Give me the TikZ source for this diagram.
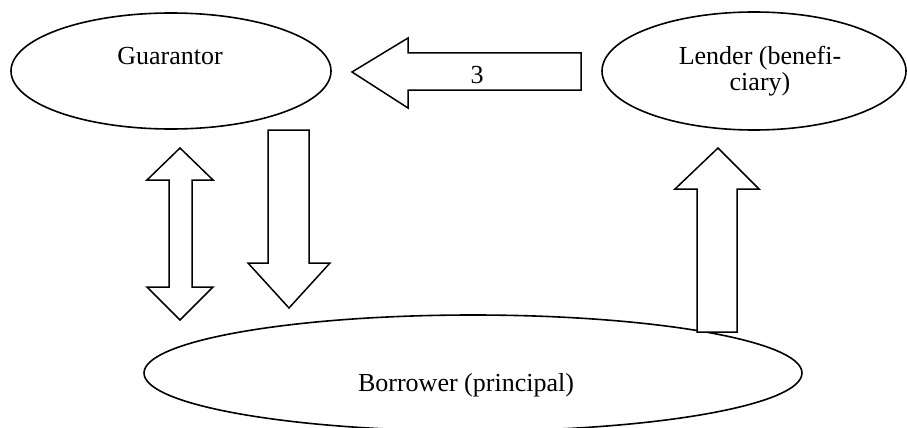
\documentclass[tikz,border=0pt]{standalone}
\usepackage{fontspec}
\setmainfont{Liberation Serif}
\usetikzlibrary{shapes.geometric}
\begin{document}
\begin{tikzpicture}[x=1pt,y=-1pt,
  ell/.style={draw=black, line width=1.6pt, ellipse, inner sep=0pt},
  arrowshape/.style={draw=black, line width=1.5pt, line join=miter, fill=white},
  lbl/.style={font=\fontsize{26}{26}\selectfont, inner sep=0pt, anchor=base, align=center}]
\useasboundingbox (0,0) rectangle (907,428);
\clip (0,0) rectangle (907,428);
% ellipses
\node[ell, minimum width=320pt, minimum height=116pt] (guar) at (171,71) {};
\node[ell, minimum width=304pt, minimum height=118pt] (lend) at (754,71) {};
\node[ell, minimum width=658pt, minimum height=116pt] (borr) at (473,373) {};
% texts
\node[lbl] (guartxt) at (170,64) {Guarantor};
\node[lbl] (lendtxt1) at (760,65) {Lender (benefi-};
\node[lbl] (lendtxt2) at (760,90) {ciary)};
\node[lbl] (borrtxt) at (466,391) {Borrower (principal)};
% left arrow (Lender -> Guarantor)
\draw[arrowshape] (352,72) -- (408,38) -- (408,53) -- (581,53) -- (581,90) -- (408,90) -- (408,108) -- cycle;
\node[lbl] (three) at (477,83) {3};
% down arrow (Guarantor -> Borrower)
\draw[arrowshape] (268,130) -- (309,130) -- (309,263) -- (330,263) -- (289,308) -- (248,263) -- (268,263) -- cycle;
% up arrow (Borrower -> Lender)
\draw[arrowshape] (697,332) -- (697,189) -- (675,189) -- (718,148) -- (759,189) -- (737,189) -- (737,332) -- cycle;
% double arrow (Guarantor <-> Borrower)
\draw[arrowshape] (180,148) -- (213,180) -- (192,180) -- (192,287) -- (213,287) -- (180,320) -- (147,287) -- (169,287) -- (169,180) -- (147,180) -- cycle;
\end{tikzpicture}
\end{document}
